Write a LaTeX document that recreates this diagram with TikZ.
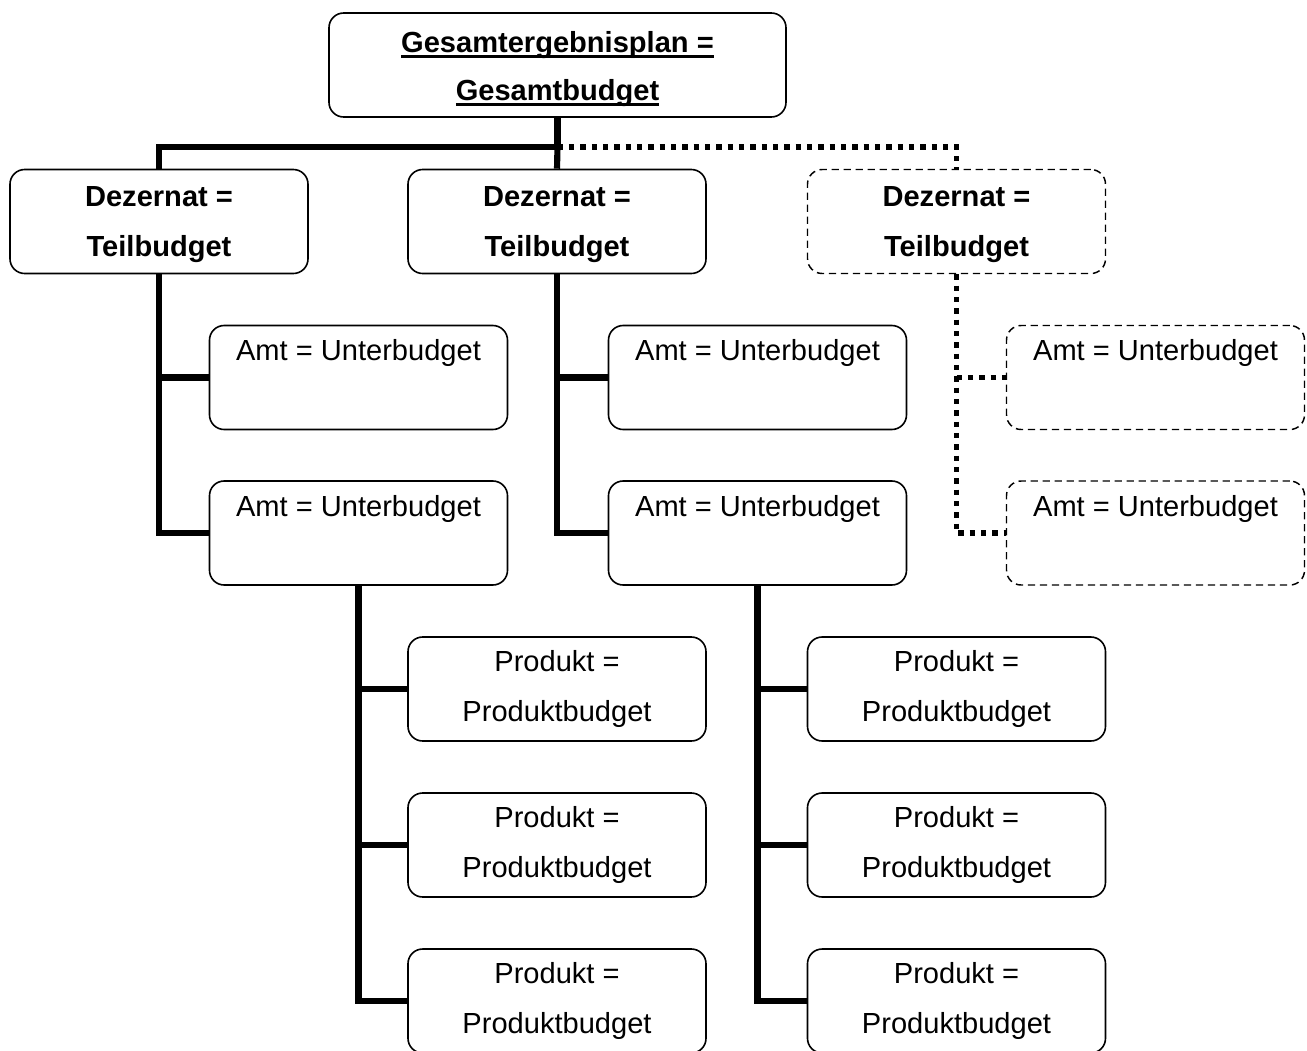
\documentclass[tikz,border=0pt]{standalone}
\usepackage{fontspec}
\setmainfont{Liberation Sans}
\newcommand\myul[1]{\setbox0\hbox{#1}\rlap{\rule[-4.2pt]{\wd0}{2.2pt}}\box0}
\tikzset{
  box/.style={draw, line width=1.2pt, rounded corners=11pt, minimum width=223.5pt, minimum height=78pt,
    align=center, inner sep=0pt, font=\fontsize{21.8pt}{37.5pt}\selectfont},
  dbox/.style={box, line width=1.1pt, dash pattern=on 5.5pt off 3.5pt},
  boldtxt/.style={font=\fontsize{21.8pt}{37.5pt}\selectfont\bfseries},
  conn/.style={line width=4.6pt, line join=miter},
  dotconn/.style={line width=4.2pt, dash pattern=on 4pt off 4.5pt},
}
\begin{document}
\begin{tikzpicture}[x=0.75pt,y=-0.75pt]
\useasboundingbox (0,0) rectangle (1307,1050);
% top
\node[box, boldtxt, minimum width=342.75pt] (top) at (557.5,65)
  {\rule{0pt}{22pt}\myul{Gesamtergebnisplan =}\\[-1.5pt]\myul{Gesamtbudget}};
% Dezernat
\node[box, boldtxt] (d1) at (159,221.5) {\rule{0pt}{19pt}Dezernat =\\Teilbudget};
\node[box, boldtxt] (d2) at (557,221.5) {\rule{0pt}{19pt}Dezernat =\\Teilbudget};
\node[dbox, boldtxt] (d3) at (956.5,221.5) {\rule{0pt}{19pt}Dezernat =\\Teilbudget};
% Amt
\node[box] (a11) at (358.5,377.5) {Amt = Unterbudget\\[-7.5pt]\strut};
\node[box] (a12) at (358.5,533) {Amt = Unterbudget\\[-7.5pt]\strut};
\node[box] (a21) at (757.5,377.5) {Amt = Unterbudget\\[-7.5pt]\strut};
\node[box] (a22) at (757.5,533) {Amt = Unterbudget\\[-7.5pt]\strut};
\node[dbox] (a31) at (1155.5,377.5) {Amt = Unterbudget\\[-7.5pt]\strut};
\node[dbox] (a32) at (1155.5,533) {Amt = Unterbudget\\[-7.5pt]\strut};
% Produkt
\node[box] (p11) at (557,689) {Produkt =\\Produktbudget};
\node[box] (p12) at (557,845) {Produkt =\\Produktbudget};
\node[box] (p13) at (557,1001) {Produkt =\\Produktbudget};
\node[box] (p21) at (956.5,689) {Produkt =\\Produktbudget};
\node[box] (p22) at (956.5,845) {Produkt =\\Produktbudget};
\node[box] (p23) at (956.5,1001) {Produkt =\\Produktbudget};
% connectors
\coordinate (bus) at (top.south |- 0,147);
\draw[conn] (top.south) -- (bus) -| (d1.north);
\draw[conn] (bus) -- (d2.north);
\draw[dotconn] (bus) -| (d3.north);
\draw[conn] (d1.south) |- (a12.west);
\draw[conn] (d1.south |- a11.west) -- (a11.west);
\draw[conn] (d2.south) |- (a22.west);
\draw[conn] (d2.south |- a21.west) -- (a21.west);
\draw[dotconn] (d3.south) |- (a32.west);
\draw[dotconn] (d3.south |- a31.west) -- (a31.west);
\draw[conn] (a12.south) |- (p13.west);
\draw[conn] (a12.south |- p11.west) -- (p11.west);
\draw[conn] (a12.south |- p12.west) -- (p12.west);
\draw[conn] (a22.south) |- (p23.west);
\draw[conn] (a22.south |- p21.west) -- (p21.west);
\draw[conn] (a22.south |- p22.west) -- (p22.west);
\end{tikzpicture}
\end{document}
